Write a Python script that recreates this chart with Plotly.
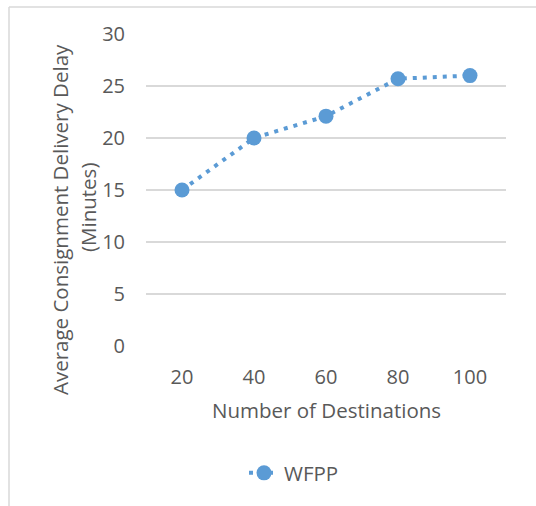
import plotly.graph_objects as go

# Chart data
destinations = ["20", "40", "60", "80", "100"]
delay_wfpp = [15, 20, 22.1, 25.7, 26]
y_ticks = [0, 5, 10, 15, 20, 25, 30]

W, H = 536, 506
L, R, T, B = 146, 30, 34, 160
PW, PH = W - L - R, H - T - B

def px_x(px):
    return (px - L) / PW

def px_y(py):
    return (H - B - py) / PH

TEXT = "#595959"
GRID = "#D9D9D9"
BLUE = "#5B9BD5"
FONT = "Open Sans"
FS = 20.5

fig = go.Figure()
fig.add_trace(go.Scatter(
    x=destinations, y=delay_wfpp, name="WFPP", mode="lines+markers",
    line=dict(color=BLUE, width=4, dash="4px,6px"),
    marker=dict(color=BLUE, size=15),
))

fig.update_layout(
    width=W, height=H,
    margin=dict(l=L, r=R, t=T, b=B),
    paper_bgcolor="white", plot_bgcolor="white",
    font=dict(family=FONT, size=FS, color=TEXT),
    showlegend=True,
    legend=dict(orientation="h", x=px_x(244), xanchor="left",
                y=px_y(473), yanchor="middle",
                font=dict(family=FONT, size=FS, color=TEXT)),
    xaxis=dict(type="category", range=[-0.5, 4.5], showgrid=False,
               showline=False, zeroline=False,
               ticks="outside", ticklen=13, tickcolor="rgba(0,0,0,0)",
               tickfont=dict(size=20), automargin=False),
    yaxis=dict(range=[0, 30], tickvals=y_ticks, showgrid=True,
               gridcolor=GRID, gridwidth=1.5, zeroline=False,
               showline=False, ticks="outside", ticklen=16,
               tickcolor="rgba(0,0,0,0)", tickfont=dict(size=20),
               automargin=False),
    annotations=[
        dict(text="Number of Destinations", xref="paper", yref="paper",
             x=0.5, y=px_y(410), xanchor="center", yanchor="middle",
             showarrow=False, font=dict(family=FONT, size=FS, color=TEXT)),
        dict(text="Average Consignment Delivery Delay", xref="paper",
             yref="paper", x=px_x(60), y=px_y(220), xanchor="center",
             yanchor="middle", textangle=-90, showarrow=False,
             font=dict(family=FONT, size=FS, color=TEXT)),
        dict(text="(Minutes)", xref="paper", yref="paper",
             x=px_x(88), y=px_y(208), xanchor="center", yanchor="middle",
             textangle=-90, showarrow=False,
             font=dict(family=FONT, size=FS, color=TEXT)),
    ],
    shapes=[
        dict(type="line", xref="paper", yref="paper",
             x0=px_x(9), x1=px_x(540), y0=px_y(7), y1=px_y(7),
             line=dict(color=GRID, width=1.5)),
        dict(type="line", xref="paper", yref="paper",
             x0=px_x(9), x1=px_x(9), y0=px_y(7), y1=px_y(510),
             line=dict(color=GRID, width=1.5)),
    ],
)

fig.write_html("out.html")
